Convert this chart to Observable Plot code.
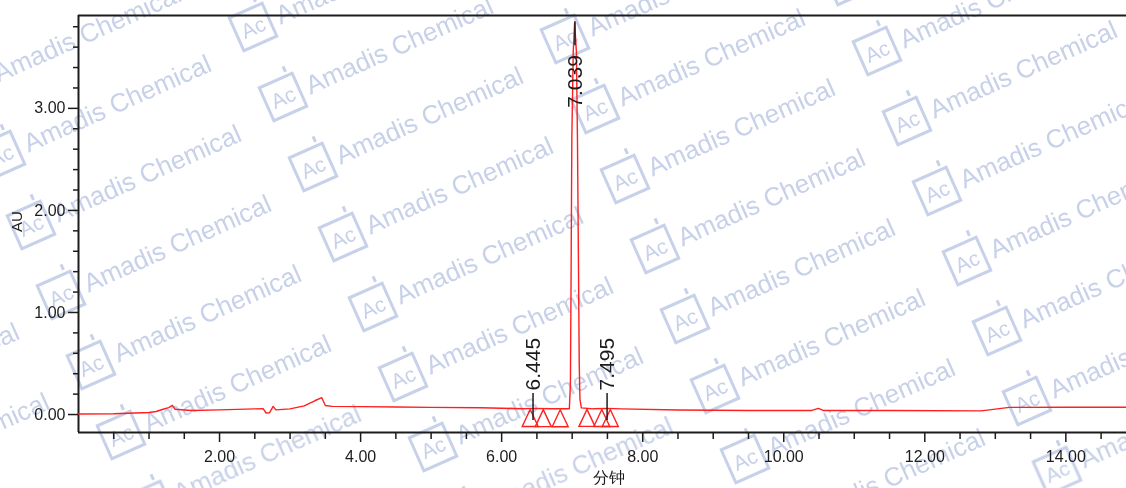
<!DOCTYPE html>
<html><head><meta charset="utf-8">
<script src="https://cdn.jsdelivr.net/npm/d3@7"></script>
<script src="https://cdn.jsdelivr.net/npm/@observablehq/plot@0.6"></script>
<style>
html,body{margin:0;padding:0;background:#fff;overflow:hidden}
#wrap{position:relative;width:1126px;height:488px}
</style></head><body><div id="wrap"></div>
<script>
// ---- data ----
const timeMin = [0.00,0.50,1.00,1.10,1.20,1.28,1.33,1.37,1.60,2.00,2.50,2.62,2.66,2.71,2.76,2.80,3.00,3.20,3.35,3.45,3.50,3.60,4.00,4.50,5.00,5.70,6.30,6.445,6.70,6.96,6.975,6.985,6.995,7.015,7.035,7.06,7.075,7.09,7.10,7.11,7.13,7.30,7.495,7.70,8.50,9.50,10.40,10.49,10.56,11.50,12.80,13.20,14.00,14.87];
const absorbanceAU = [0.005,0.008,0.020,0.030,0.052,0.068,0.090,0.052,0.040,0.046,0.055,0.056,0.015,0.018,0.080,0.046,0.055,0.085,0.135,0.165,0.088,0.080,0.078,0.074,0.070,0.066,0.057,0.060,0.056,0.056,0.30,1.40,2.70,3.55,3.84,3.55,2.70,1.40,0.50,0.15,0.065,0.056,0.060,0.055,0.045,0.040,0.040,0.060,0.040,0.040,0.036,0.070,0.072,0.072];
const peakTimes = [6.445, 7.039, 7.495];
const peakLabels = ["6.445", "7.039", "7.495"];
const markerTimes = [6.405, 6.59, 6.83, 7.21, 7.42, 7.54];
const xTickValues = [2, 4, 6, 8, 10, 12, 14];
const xTickLabels = ["2.00", "4.00", "6.00", "8.00", "10.00", "12.00", "14.00"];
const yTickValues = [0, 1, 2, 3];
const yTickLabels = ["0.00", "1.00", "2.00", "3.00"];
const xLabel = "分钟";
const yLabel = "AU";
const watermarkLogo = "Ac";
const watermarkText = "Amadis Chemical";

// ---- layout ----
const W = 1126, H = 488, mL = 78, mR = 0, mT = 15, mB = 56;
const xDomain = [0, 14.86];
const yDomain = [-0.176, 3.91];
const pxAU = (yDomain[1] - yDomain[0]) / (H - mT - mB);

const trace = timeMin.map((t, i) => ({t, v: absorbanceAU[i]}));
function valueAt(t) {
  for (let i = 1; i < timeMin.length; i++) {
    if (t <= timeMin[i]) {
      const a = timeMin[i - 1], b = timeMin[i];
      const f = (t - a) / (b - a);
      return absorbanceAU[i - 1] + f * (absorbanceAU[i] - absorbanceAU[i - 1]);
    }
  }
  return absorbanceAU[absorbanceAU.length - 1];
}
const peaks = peakTimes.map((t, i) => {
  const h = Math.max(valueAt(t), valueAt(t - 0.004), valueAt(t + 0.004));
  return {t, label: peakLabels[i], h, flip: h + 85 * pxAU > yDomain[1]};
});
const small = peaks.filter(p => !p.flip);
const big = peaks.filter(p => p.flip);
const markers = markerTimes.map(t => ({t, v: valueAt(t)}));

const tri = {draw(ctx) { ctx.moveTo(0, 1); ctx.lineTo(8, 18); ctx.lineTo(-8, 18); ctx.closePath(); }};
const minorX = d3.range(1, 30).map(i => i * 0.5).filter(d => d % 2 !== 0);
const minorY = d3.range(1, 20).map(i => +(i * 0.2).toFixed(1)).filter(d => d % 1 !== 0);

const ink = "#1c1c1c";
const red = "#ff1f1f";

const chart = Plot.plot({
  width: W, height: H, marginLeft: mL, marginRight: mR, marginTop: mT, marginBottom: mB,
  x: {domain: xDomain},
  y: {domain: yDomain},
  style: {fontFamily: "'Liberation Sans', Arial, sans-serif", fontSize: "16px", color: ink, background: "#fff", overflow: "visible"},
  marks: [
    Plot.axisX({ticks: minorX, tickSize: 7, tickFormat: () => "", label: null, strokeWidth: 1.5}),
    Plot.axisX({ticks: xTickValues, tickSize: 10, tickPadding: 8, label: null, strokeWidth: 1.5,
      tickFormat: d => xTickLabels[xTickValues.indexOf(d)]}),
    Plot.axisY({ticks: minorY, tickSize: 5, tickFormat: () => "", label: null, strokeWidth: 1.5}),
    Plot.axisY({ticks: yTickValues, tickSize: 10, tickPadding: 3, label: null, strokeWidth: 1.5,
      tickFormat: d => yTickLabels[yTickValues.indexOf(d)]}),
    Plot.ruleY([yDomain[1]], {stroke: ink, strokeWidth: 2}),
    Plot.ruleY([yDomain[0]], {stroke: ink, strokeWidth: 2}),
    Plot.ruleX([xDomain[0]], {stroke: ink, strokeWidth: 2}),
    Plot.line(trace, {x: "t", y: "v", stroke: red, strokeWidth: 1.4}),
    Plot.dot(markers, {x: "t", y: "v", symbol: tri, stroke: red, fill: "none", strokeWidth: 1.4}),
    Plot.ruleX(small, {x: "t", y1: d => d.h - 12 * pxAU, y2: d => d.h + 15 * pxAU, stroke: ink, strokeWidth: 1.5}),
    Plot.text(small, {x: "t", y: "h", text: "label", rotate: -90, textAnchor: "start", dy: -18,
      fontSize: 21, fill: ink}),
    Plot.ruleX(big, {x: "t", y1: d => d.h - 23 * pxAU, y2: d => d.h + 1 * pxAU, stroke: ink, strokeWidth: 1.5}),
    Plot.text(big, {x: "t", y: "h", text: "label", rotate: -90, textAnchor: "start", dy: 85,
      fontSize: 21, fill: ink}),
    Plot.text([xLabel], {frameAnchor: "bottom", dx: 6, dy: 50, fontSize: 16, fill: ink}),
    Plot.text([yLabel], {frameAnchor: "left", dx: -61, dy: 8, rotate: -90, fontSize: 15, fill: ink})
  ]
});

// ---- watermark (decorative overlay) ----
const ns = "http://www.w3.org/2000/svg";
const wm = document.createElementNS(ns, "g");
wm.setAttribute("fill", "none");
wm.setAttribute("opacity", "0.5");
const origin = [283, 97], rowStep = [30, 70], colStep = [312, 12];
for (let c = -2; c <= 3; c++) {
  for (let r = -3; r <= 7; r++) {
    const cx = origin[0] + c * colStep[0] + r * rowStep[0];
    const cy = origin[1] + c * colStep[1] + r * rowStep[1];
    if (cx < -250 || cx > 1150 || cy < -40 || cy > 540) continue;
    const g = document.createElementNS(ns, "g");
    g.setAttribute("transform", `translate(${cx},${cy}) rotate(-24)`);
    g.innerHTML = `<rect x="-18" y="-18" width="36" height="36" stroke="#8fa2d2" stroke-width="3"/>
      <text x="0" y="8" text-anchor="middle" font-size="21" font-family="Liberation Sans, Arial" fill="#8fa2d2">${watermarkLogo}</text>
      <rect x="11" y="-28" width="3" height="6" fill="#8fa2d2"/>
      <text x="26" y="9" text-anchor="start" font-size="26" font-family="Liberation Sans, Arial" fill="#8fa2d2">${watermarkText}</text>`;
    wm.appendChild(g);
  }
}
chart.insertBefore(wm, chart.firstChild.nextSibling);
document.getElementById("wrap").appendChild(chart);
</script></body></html>
